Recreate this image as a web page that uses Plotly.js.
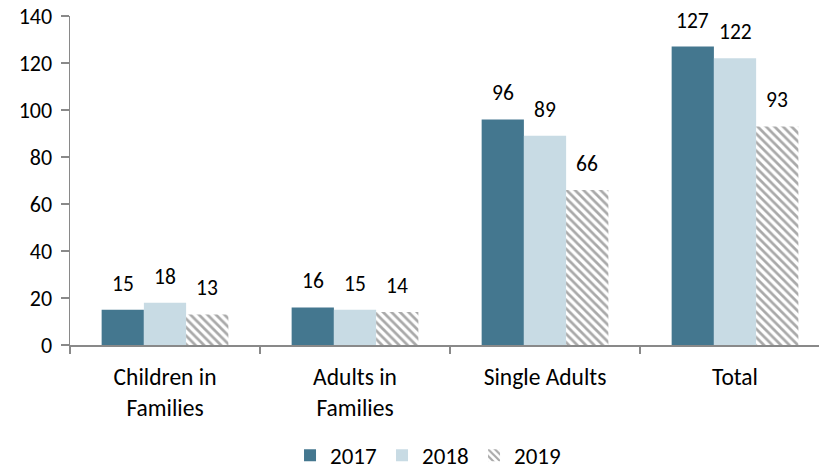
<!DOCTYPE html>
<html><head><meta charset="utf-8">
<script src="https://cdn.plot.ly/plotly-3.0.1.min.js"></script>
<style>body{margin:0;background:#fff}#chart{width:819px;height:470px}</style>
</head><body><div id="chart"></div>
<script>
const categories = ["Children in<br>Families", "Adults in<br>Families", "Single Adults", "Total"];
const years = ["2017", "2018", "2019"];
const values2017 = [15, 16, 96, 127];
const values2018 = [18, 15, 89, 122];
const values2019 = [13, 14, 66, 93];

const fam = "Carlito, Lato, 'Open Sans', sans-serif";
const yTickFont = {family: fam, size: 22, color: "#000"};
const xTickFont = {family: fam, size: 23.5, color: "#000"};
const labelFont = {family: fam, size: 21.5, color: "#000"};
const legendFont = {family: fam, size: 23, color: "#000"};
const W = 819, H = 470, ML = 70, MR = 0, MT = 16, MB = 125;
const xRange = [-0.5, 3.442];
const bargap = 0.333;

function bar(name, vals, marker) {
  return {type: "bar", name: name, x: categories, y: vals,
    marker: marker, hoverinfo: "none"};
}
const data = [
  bar(years[0], values2017, {color: "#44778F", line: {width: 0}}),
  bar(years[1], values2018, {color: "#C8DBE4", line: {width: 0}}),
  bar(years[2], values2019, {color: "#FFFFFF", line: {width: 0},
    pattern: {shape: "\\", fgcolor: "#A9A9A9", bgcolor: "#FFFFFF", size: 6, solidity: 0.45}})
];

// data labels placed above each bar, offset within the group
const pxPerCat = (W - ML - MR) / (xRange[1] - xRange[0]);
const barPx = pxPerCat * (1 - bargap) / 3;
const series = [values2017, values2018, values2019];
const annotations = [];
series.forEach((vals, s) => {
  vals.forEach((v, i) => {
    annotations.push({x: categories[i], y: v, xref: "x", yref: "y", text: String(v),
      showarrow: false, xanchor: "center", yanchor: "bottom", yshift: 11,
      xshift: (s - 1) * barPx, font: labelFont});
  });
});

const layout = {
  width: W, height: H,
  margin: {l: ML, r: MR, t: MT, b: MB, autoexpand: false},
  paper_bgcolor: "#fff", plot_bgcolor: "#fff",
  font: yTickFont,
  barmode: "group", bargap: bargap, bargroupgap: 0,
  annotations: annotations,
  xaxis: {range: xRange, showline: true, linecolor: "#898989", linewidth: 2,
    ticks: "outside", tickson: "boundaries", ticklen: 7, tickcolor: "#898989", tickwidth: 1.5,
    showgrid: false, tickfont: xTickFont, ticklabelstandoff: 10, automargin: false, fixedrange: true},
  yaxis: {range: [0, 140], dtick: 20, showline: true, linecolor: "#898989", linewidth: 1.5,
    ticks: "outside", ticklen: 8, tickcolor: "#898989", tickwidth: 1.5, showgrid: false,
    zeroline: false, tickfont: yTickFont, ticklabelstandoff: 4, automargin: false, fixedrange: true},
  legend: {orientation: "h", x: 0.478, xanchor: "center", y: -0.335, yanchor: "middle",
    font: legendFont, itemwidth: 30, entrywidth: 47, entrywidthmode: "pixels",
    traceorder: "normal", tracegroupgap: 0},
  showlegend: true
};
Plotly.newPlot("chart", data, layout, {staticPlot: true, displayModeBar: false});
</script></body></html>
